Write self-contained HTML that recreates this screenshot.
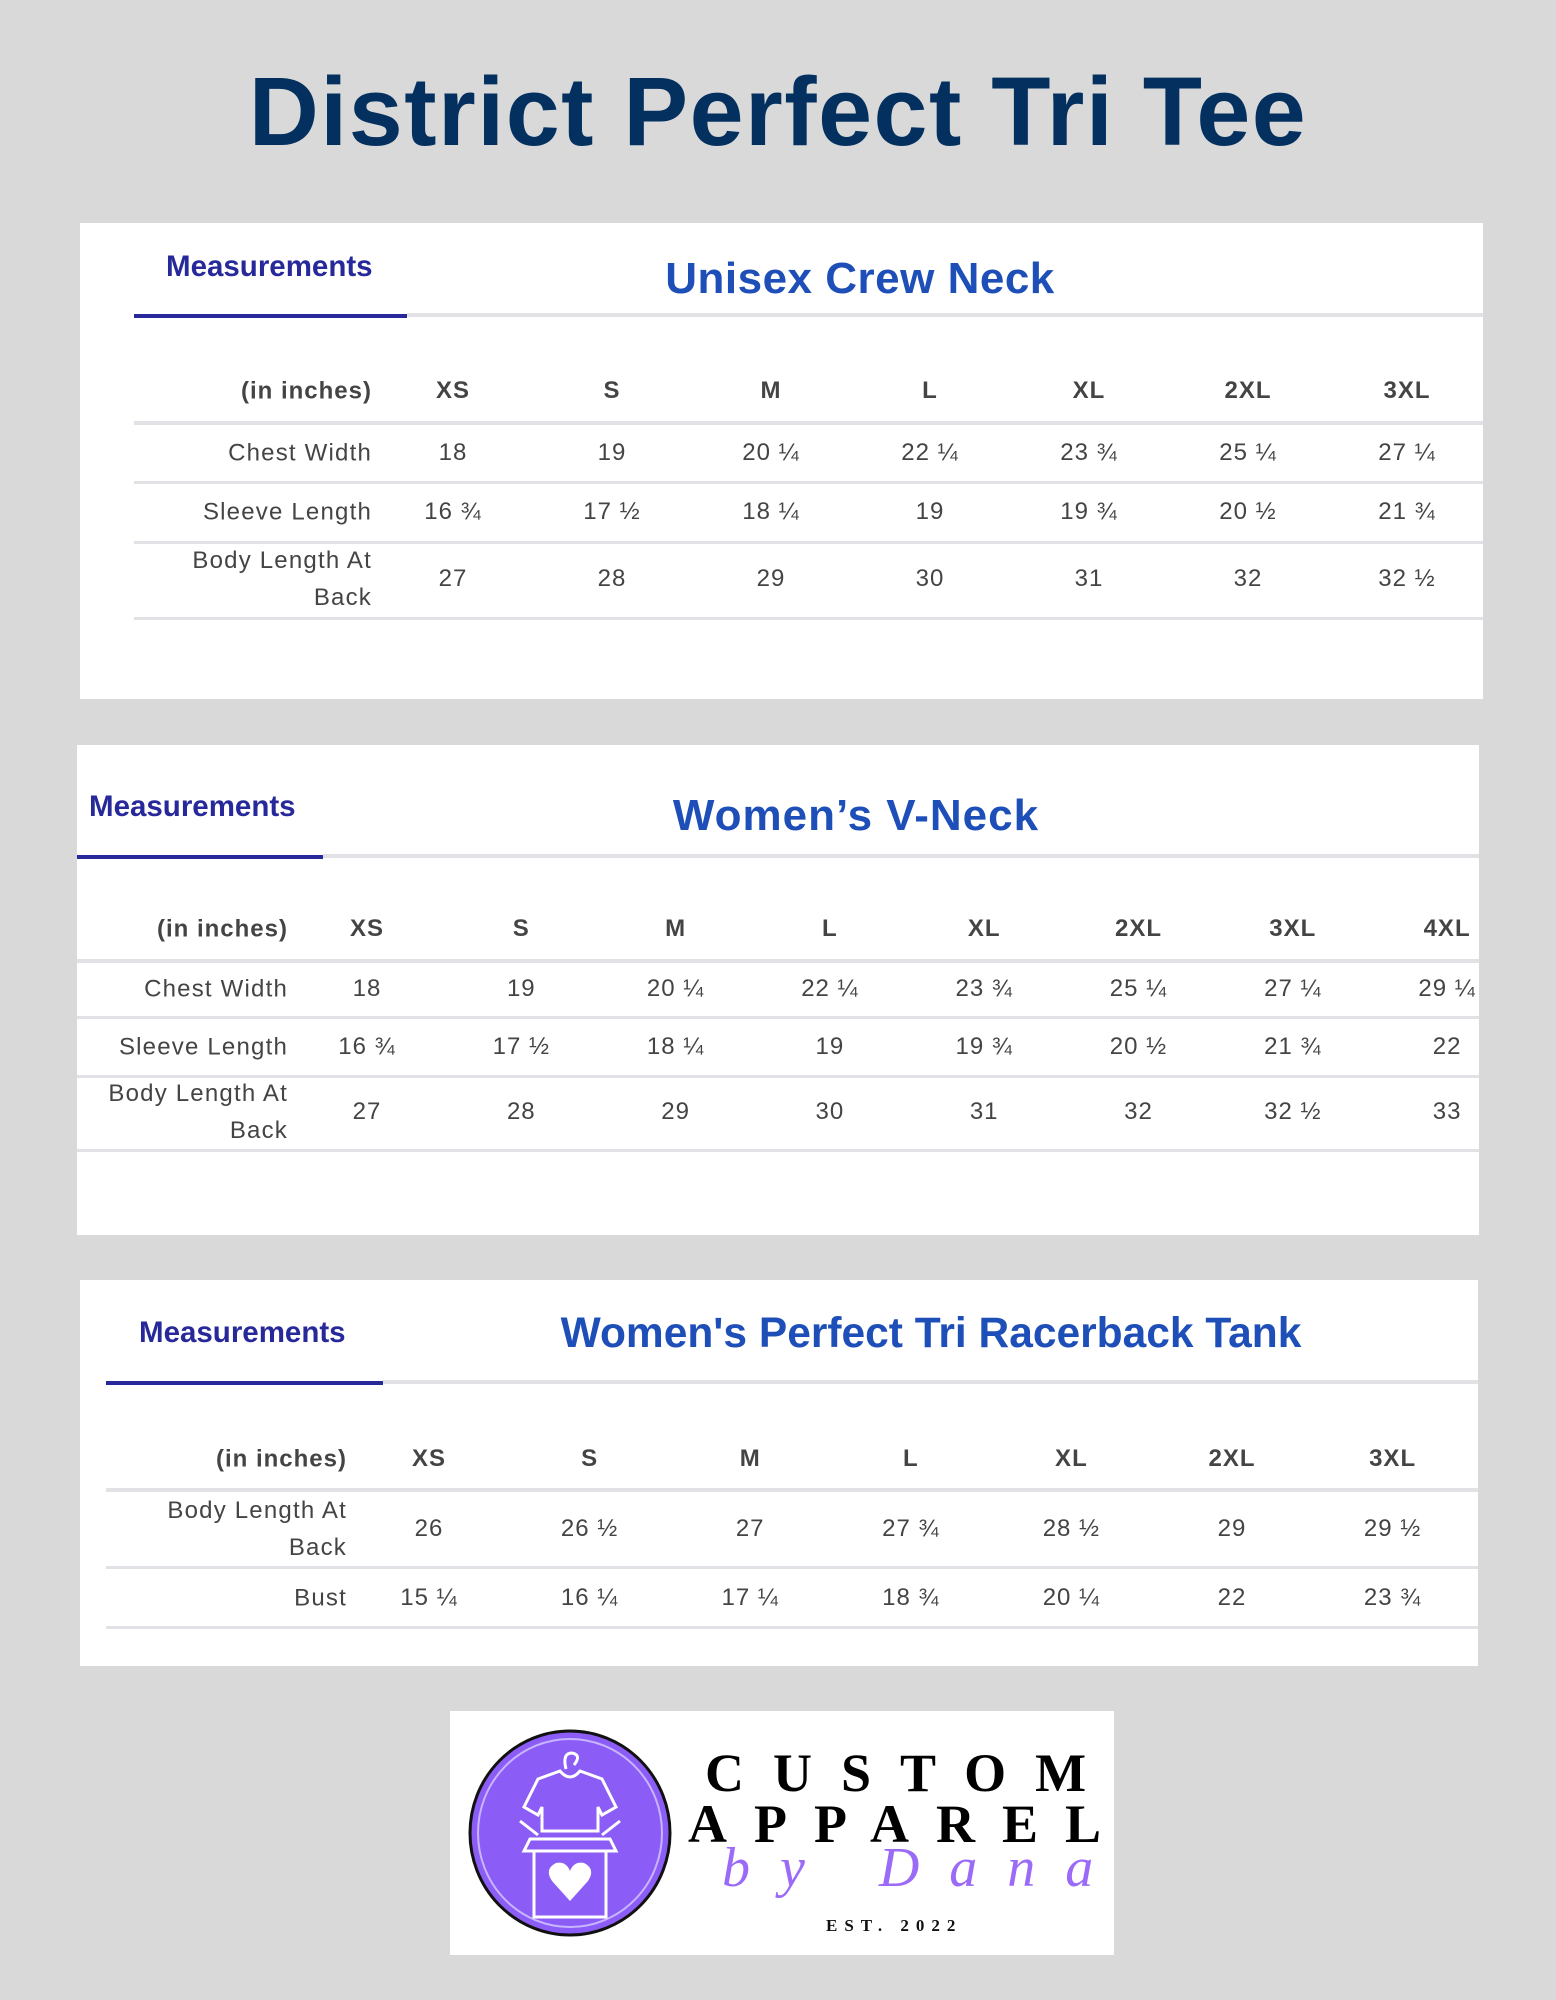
<!DOCTYPE html>
<html><head><meta charset="utf-8">
<style>
body{margin:0;width:1556px;height:2000px;background:#d9d9d9;position:relative;overflow:hidden;font-family:"Liberation Sans",Arial,sans-serif}
.card{position:absolute;background:#fff}
.title{position:absolute;left:0;width:1556px;top:56px;text-align:center;font-size:97px;font-weight:bold;color:#03305f;letter-spacing:1.5px;font-family:"Liberation Sans",sans-serif}
.meas{position:absolute;font-size:29.5px;font-weight:bold;color:#27299b;transform:translateY(-50%)}
.ctitle{position:absolute;font-size:44px;font-weight:bold;color:#1e4fb8;transform:translate(-50%,-50%);white-space:nowrap;font-family:"Liberation Sans",sans-serif;letter-spacing:1px}
.line{position:absolute;background:#e2e2e6}
.ul{position:absolute;background:#27299b;height:4px}
.cell{position:absolute;font-size:24px;color:#444;transform:translate(-50%,-50%);white-space:nowrap;letter-spacing:1px}
.hdr{font-weight:bold;color:#444}
.lab{position:absolute;font-size:24px;color:#444;text-align:right;line-height:37px;transform:translateY(-50%);letter-spacing:1.2px}
</style></head><body>
<div class="title">District Perfect Tri Tee</div>
<div id="root"></div>
<div class="card" style="left:450px;top:1711px;width:664px;height:244px">
<svg width="664" height="244">
<ellipse cx="120" cy="122" rx="100" ry="102" fill="#8b5cf6" stroke="#111" stroke-width="3"/>
<ellipse cx="120" cy="122" rx="92" ry="94" fill="none" stroke="#c9b5ff" stroke-width="2"/>
<g fill="none" stroke="#fff" stroke-width="3">
<path d="M88 68 L110 60 Q120 72 130 60 L152 68 L166 96 L152 104 L148 96 L148 120 L92 120 L92 96 L88 104 L74 96 Z"/>
<path d="M116 58 Q112 42 122 42 Q132 44 124 54"/>
<path d="M80 128 L160 128 L166 140 L74 140 Z"/><rect x="84" y="140" width="72" height="66"/>
<path d="M70 110 L88 124 M170 110 L152 124"/>
</g>
<path d="M120 190 L102 170 Q94 158 106 152 Q116 150 120 160 Q124 150 134 152 Q146 158 138 170 Z" fill="#fff"/>
<text x="255" y="80" font-family="Liberation Serif" font-size="54" letter-spacing="29" fill="#000" font-weight="bold">CUSTOM</text>
<text x="238" y="131" font-family="Liberation Serif" font-size="54" letter-spacing="27" fill="#000" font-weight="bold">APPAREL</text>
<text x="272" y="175" font-family="Liberation Serif" font-style="italic" font-size="56" letter-spacing="30" fill="#9b6bf7">by Dana</text>
<text x="376" y="220" font-family="Liberation Serif" font-size="17" letter-spacing="7" fill="#111" font-weight="bold">EST. 2022</text>
</svg></div>
<script>
const sizes1=["XS","S","M","L","XL","2XL","3XL"];
const labels1=["Chest Width","Sleeve Length","Body Length At<br>Back"];
const vals1=[["18","19","20 ¼","22 ¼","23 ¾","25 ¼","27 ¼"],["16 ¾","17 ½","18 ¼","19","19 ¾","20 ½","21 ¾"],["27","28","29","30","31","32","32 ½"]];
const sizes2=["XS","S","M","L","XL","2XL","3XL","4XL"];
const labels2=["Chest Width","Sleeve Length","Body Length At<br>Back"];
const vals2=[["18","19","20 ¼","22 ¼","23 ¾","25 ¼","27 ¼","29 ¼"],["16 ¾","17 ½","18 ¼","19","19 ¾","20 ½","21 ¾","22"],["27","28","29","30","31","32","32 ½","33"]];
const sizes3=["XS","S","M","L","XL","2XL","3XL"];
const labels3=["Body Length At<br>Back","Bust"];
const vals3=[["26","26 ½","27","27 ¾","28 ½","29","29 ½"],["15 ¼","16 ¼","17 ¼","18 ¾","20 ¼","22","23 ¾"]];
const root=document.getElementById('root');
function mk(cls,style,html){const d=document.createElement('div');d.className=cls;d.style.cssText=style;if(html!==undefined)d.innerHTML=html;return d;}
function table(c){
 const card=mk('card',`left:${c.x}px;top:${c.y}px;width:${c.w}px;height:${c.h}px`);
 
 
 root.appendChild(card);
 const add=(el)=>{card.appendChild(el);return el;};
 let e=add(mk('meas',`left:${c.mx}px;top:${c.my}px`,'Measurements'));
 
 
 e=add(mk('line',`left:${c.ul1}px;top:${c.uly-1}px;width:${c.w-c.ul1}px;height:4px`));
 
 
 e=add(mk('ul',`left:${c.ul0}px;top:${c.uly}px;width:${c.ul1-c.ul0}px`));
 
 
 e=add(mk('ctitle',`left:${c.tx}px;top:${c.ty}px;font-size:${c.tf}px;letter-spacing:${c.tl}px`,c.title));
 
 
 e=add(mk('lab hdr',`right:${c.w-c.lr}px;top:${c.hy}px;font-weight:bold;letter-spacing:1px`,'(in inches)'));
 
 
 c.sizes.forEach((s,i)=>{const el=add(mk('cell hdr',`left:${c.c0+i*c.cs}px;top:${c.hy}px`,s));
  
  });
 c.lines.forEach((ly,i)=>{const el=add(mk('line',`left:${c.ul0}px;top:${ly}px;width:${c.w-c.ul0}px;height:${i==0?4:3}px`));
  
  });
 c.labels.forEach((l,r)=>{const el=add(mk('lab',`right:${c.w-c.lr}px;top:${c.rows[r]}px`,l));
  
  
  c.vals[r].forEach((v,i)=>{const t=add(mk('cell',`left:${c.c0+i*c.cs}px;top:${c.rows[r]}px`,v));
   
   });});
}
table({name:'unisex-crew-neck-table',x:80,y:223,w:1403,h:476,mx:86,my:44,ul0:54,ul1:327,uly:91,tx:780,ty:56,tf:44,tl:0.5,title:'Unisex Crew Neck',lr:292,hy:168,c0:373,cs:159,lines:[198,258,318,394],rows:[230,289,356],sizes:sizes1,labels:labels1,vals:vals1});
table({name:'womens-v-neck-table',x:77,y:745,w:1402,h:490,mx:12,my:62,ul0:0,ul1:246,uly:110,tx:779,ty:71,tf:44,tl:1,title:'Women’s V-Neck',lr:211,hy:184,c0:290,cs:154.3,lines:[214,271,330,404],rows:[244,302,367],sizes:sizes2,labels:labels2,vals:vals2});
table({name:'womens-racerback-tank-table',x:80,y:1280,w:1398,h:386,mx:59,my:53,ul0:26,ul1:303,uly:101,tx:851,ty:54,tf:42.5,tl:0,title:"Women's Perfect Tri Racerback Tank",lr:267,hy:179,c0:349,cs:160.6,lines:[208,286,346],rows:[249,318],sizes:sizes3,labels:labels3,vals:vals3});
</script>
</body></html>
